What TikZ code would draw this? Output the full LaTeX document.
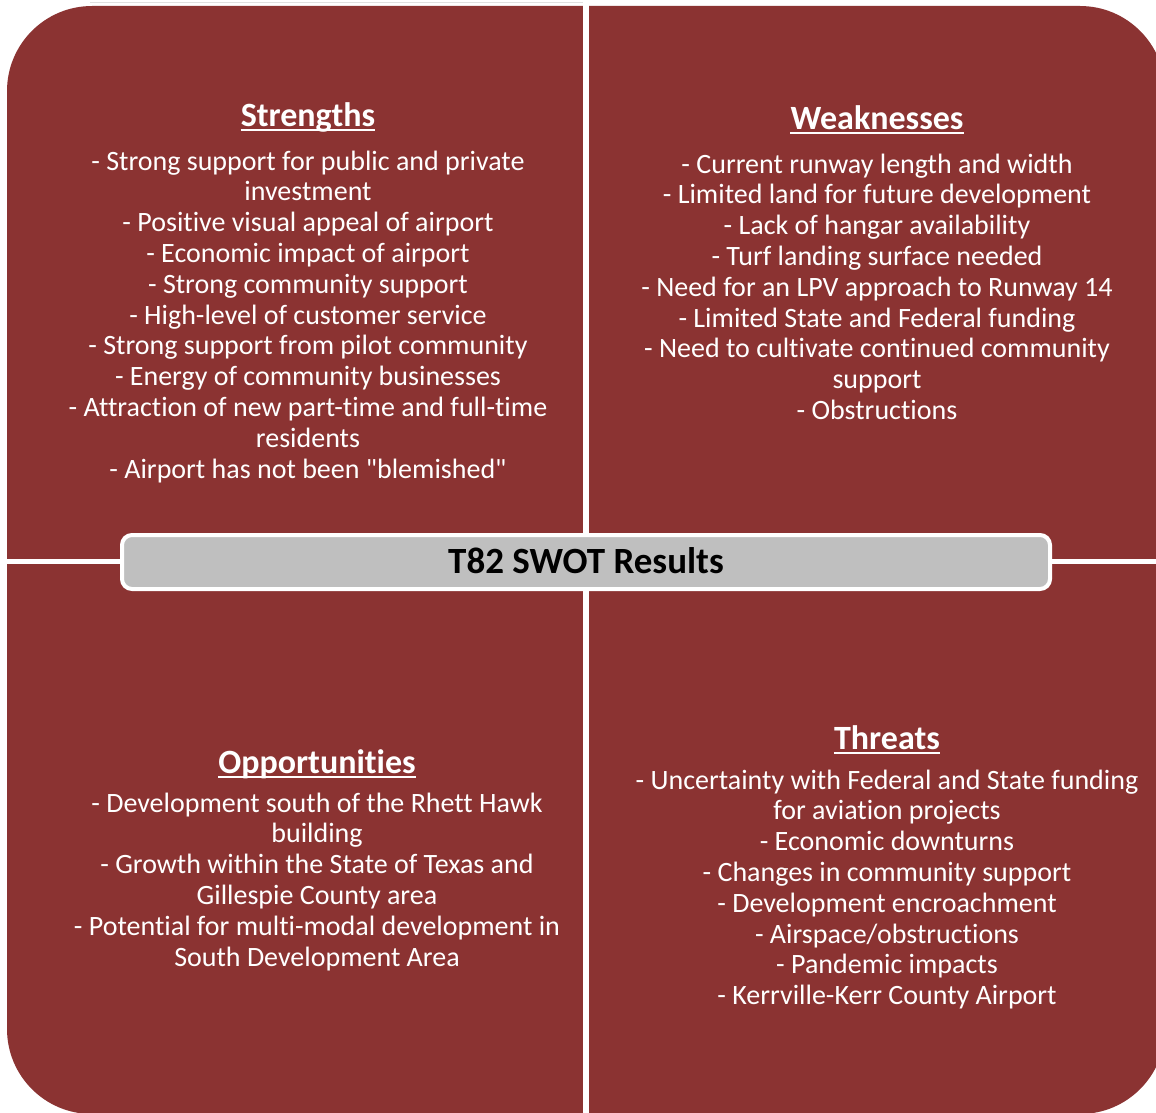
\documentclass[tikz,border=0pt]{standalone}
\usepackage{fontspec}
\setmainfont{Carlito}[Ligatures={TeXOff,NoCommon}]
\definecolor{swotred}{RGB}{139,51,50}
\definecolor{swotgray}{RGB}{191,191,191}
\tikzset{
  body/.style={text=white, font=\fontsize{28}{30.8}\selectfont, anchor=base, inner sep=0pt},
  head/.style={text=white, font=\fontsize{34}{40}\selectfont\bfseries, anchor=base, inner sep=0pt},
  headline/.style={draw=white, line width=2pt},
  titletext/.style={text=black, font=\fontsize{37}{44}\selectfont\bfseries, anchor=base, inner sep=0pt},
  titlebar/.style={draw=white, line width=4pt, fill=swotgray, rounded corners=10pt,
    minimum width=928pt, minimum height=54pt, inner sep=0pt},
  gap/.style={fill=white}
}
\begin{document}
\begin{tikzpicture}[x=1pt,y=-1pt]
\useasboundingbox (0,0) rectangle (1156,1113);
% faint line above the top left quadrant
\draw[black!12, line width=1pt] (90,3) -- (583,3);
% the four quadrants: one rounded block cut by white gaps
\fill[swotred, rounded corners=85pt] (7,6) rectangle (1165,1114);
\fill[gap] (583,0) rectangle (589,1113);
\fill[gap] (0,559) rectangle (1156,564);
% Strengths
\node[head] (hs) at (308,127) {Strengths};
\draw[headline] ([yshift=-3.5pt]hs.base west) -- ([yshift=-3.5pt]hs.base east);
\foreach \t [count=\i from 0] in {
  {- Strong support for public and private},
  {investment},
  {- Positive visual appeal of airport},
  {- Economic impact of airport},
  {- Strong community support},
  {- High-level of customer service},
  {- Strong support from pilot community},
  {- Energy of community businesses},
  {- Attraction of new part-time and full-time},
  {residents},
  {- Airport has not been "blemished"}}
  \node[body, name=s\i] at (308,{170+30.8*\i}) {\t};
% Weaknesses
\node[head] (hw) at (877,130) {Weaknesses};
\draw[headline] ([yshift=-3.5pt]hw.base west) -- ([yshift=-3.5pt]hw.base east);
\foreach \t [count=\i from 0] in {
  {- Current runway length and width},
  {- Limited land for future development},
  {- Lack of hangar availability},
  {- Turf landing surface needed},
  {- Need for an LPV approach to Runway 14},
  {- Limited State and Federal funding},
  {- Need to cultivate continued community},
  {support},
  {- Obstructions}}
  \node[body, name=w\i] at (877,{173+30.8*\i}) {\t};
% Opportunities
\node[head] (ho) at (317,773) {Opportunities};
\draw[headline] ([yshift=-3.5pt]ho.base west) -- ([yshift=-3.5pt]ho.base east);
\foreach \t [count=\i from 0] in {
  {- Development south of the Rhett Hawk},
  {building},
  {- Growth within the State of Texas and},
  {Gillespie County area},
  {- Potential for multi-modal development in},
  {South Development Area}}
  \node[body, name=o\i] at (317,{812+30.8*\i}) {\t};
% Threats
\node[head] (ht) at (887,749) {Threats};
\draw[headline] ([yshift=-3.5pt]ht.base west) -- ([yshift=-3.5pt]ht.base east);
\foreach \t [count=\i from 0] in {
  {- Uncertainty with Federal and State funding},
  {for aviation projects},
  {- Economic downturns},
  {- Changes in community support},
  {- Development encroachment},
  {- Airspace/obstructions},
  {- Pandemic impacts},
  {- Kerrville-Kerr County Airport}}
  \node[body, name=t\i] at (887,{789+30.8*\i}) {\t};
% centre title
\node[titlebar] (bar) at (586,562) {};
\node[titletext] (title) at (586,573) {T82 SWOT Results};
\end{tikzpicture}
\end{document}
